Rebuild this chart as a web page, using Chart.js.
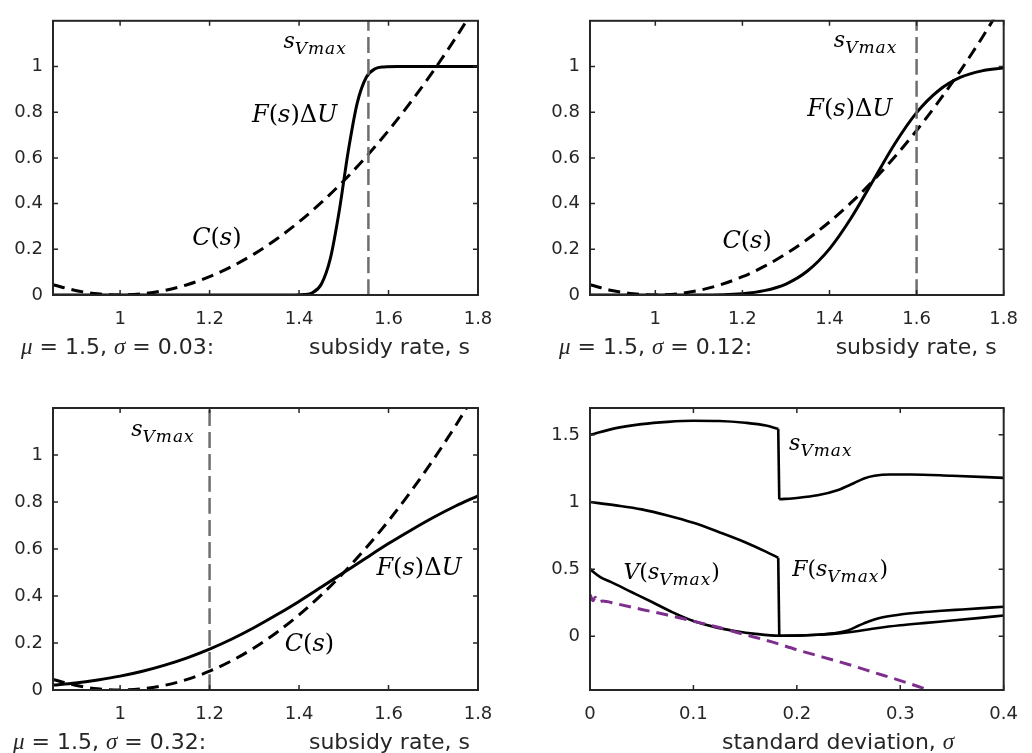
<!DOCTYPE html>
<html>
<head>
<meta charset="utf-8">
<script src="https://cdn.jsdelivr.net/npm/chart.js@4.4.1/dist/chart.umd.min.js"></script>
<style>
body { margin: 0; background: #fff; width: 1032px; height: 753px; position: relative; overflow: hidden; }
canvas { position: absolute; }
</style>
</head>
<body>
<canvas id="p1" width="516" height="376" style="left:0;top:0"></canvas>
<canvas id="p2" width="516" height="376" style="left:516px;top:0"></canvas>
<canvas id="p3" width="516" height="377" style="left:0;top:376px"></canvas>
<canvas id="p4" width="516" height="377" style="left:516px;top:376px"></canvas>
<script>
// subsidy rate grid and cost curve C(s), shared by the three top panels
var sGrid = [0.85, 0.9, 0.95, 1, 1.05, 1.1, 1.15, 1.2, 1.25, 1.3, 1.35, 1.4, 1.45, 1.5, 1.55, 1.6, 1.65, 1.7, 1.75, 1.8];
var costC = [0.045, 0.02, 0.005, 0, 0.005, 0.02, 0.045, 0.08, 0.125, 0.18, 0.245, 0.32, 0.405, 0.5, 0.605, 0.72, 0.845, 0.98, 1.125, 1.28];

// F(s)dU, sigma = 0.03
var s1 = [0.85, 1, 1.2, 1.38, 1.41, 1.43, 1.45, 1.47, 1.49, 1.5, 1.51, 1.53, 1.55, 1.57, 1.59, 1.62, 1.7, 1.8];
var F1 = [0, 0, 0, 0, 0.002, 0.01, 0.048, 0.16, 0.37, 0.5, 0.63, 0.84, 0.952, 0.99, 0.998, 1, 1, 1];
// F(s)dU, sigma = 0.12
var s2 = [0.85, 0.9, 1, 1.1, 1.2, 1.25, 1.3, 1.35, 1.4, 1.45, 1.5, 1.55, 1.6, 1.65, 1.7, 1.75, 1.8];
var F2 = [0, 0, 0, 0, 0.006, 0.019, 0.048, 0.106, 0.202, 0.338, 0.5, 0.662, 0.798, 0.894, 0.952, 0.981, 0.994];
// F(s)dU, sigma = 0.32 (on sGrid)
var F3 = [0.021, 0.03, 0.043, 0.059, 0.08, 0.106, 0.137, 0.174, 0.217, 0.266, 0.32, 0.377, 0.438, 0.5, 0.562, 0.623, 0.68, 0.734, 0.783, 0.826];

// s_Vmax position for each top panel
var sVmaxMark = [1.555, 1.6, 1.2];

// bottom right panel: against standard deviation
var sigA = [0, 0.025, 0.05, 0.075, 0.1, 0.125, 0.15, 0.17, 0.182, 0.183, 0.2, 0.22, 0.24, 0.255, 0.265, 0.275, 0.29, 0.31, 0.35, 0.4];
var sVmax = [1.5, 1.55, 1.58, 1.597, 1.605, 1.603, 1.59, 1.57, 1.545, 1.02, 1.03, 1.05, 1.09, 1.14, 1.175, 1.195, 1.205, 1.205, 1.195, 1.18];
var sigB = [0, 0.025, 0.05, 0.075, 0.1, 0.125, 0.15, 0.17, 0.182, 0.183, 0.2, 0.22, 0.235, 0.25, 0.26, 0.27, 0.28, 0.3, 0.32, 0.34, 0.36, 0.38, 0.4];
var FsV = [1.0, 0.975, 0.945, 0.9, 0.845, 0.775, 0.7, 0.63, 0.585, 0.004, 0.005, 0.012, 0.022, 0.045, 0.08, 0.112, 0.137, 0.162, 0.178, 0.19, 0.2, 0.21, 0.22];
var jumpAt = 8; // index of the last point before the drop in sigA / sigB
var sigC = [0, 0.01, 0.02, 0.04, 0.06, 0.08, 0.1, 0.12, 0.14, 0.16, 0.183, 0.2, 0.22, 0.235, 0.25, 0.275, 0.3, 0.325, 0.35, 0.375, 0.4];
var VsV = [0.5, 0.44, 0.405, 0.33, 0.255, 0.178, 0.114, 0.07, 0.04, 0.018, 0.004, 0.005, 0.011, 0.018, 0.03, 0.058, 0.082, 0.1, 0.117, 0.135, 0.155];
var sigD = [0, 0.003, 0.005, 0.008, 0.012, 0.025, 0.05, 0.075, 0.1, 0.125, 0.15, 0.175, 0.2, 0.225, 0.25, 0.275, 0.3, 0.325, 0.34];
var purple = [0.31, 0.265, 0.29, 0.255, 0.262, 0.243, 0.2, 0.158, 0.112, 0.065, 0.012, -0.04, -0.1, -0.155, -0.21, -0.27, -0.33, -0.395, -0.44];

// tick labels
var xTicksS = [1, 1.2, 1.4, 1.6, 1.8];
var yTicksF = [0, 0.2, 0.4, 0.6, 0.8, 1];
var xTicksSig = [0, 0.1, 0.2, 0.3, 0.4];
var yTicks4 = [0, 0.5, 1, 1.5];

var AXIS = '#262626';
var SERIF = '"DejaVu Serif"';
var SANS = '"DejaVu Sans"';

function pts(xs, ys) {
  return xs.map(function (x, i) { return { x: x, y: ys[i] }; });
}
// break the smooth curve at the drop (the drop itself is drawn as a straight segment)
function withGap(xs, ys, k) {
  var d = pts(xs, ys);
  d.splice(k + 1, 0, { x: (xs[k] + xs[k + 1]) / 2, y: null });
  return d;
}

function solid(data, w) {
  return { data: data, borderColor: '#000', borderWidth: w || 3, pointRadius: 0,
    cubicInterpolationMode: 'monotone', clip: 1 };
}
function straight(data, w) {
  return { data: data, borderColor: '#000', borderWidth: w || 3, pointRadius: 0, tension: 0, clip: 1 };
}
function dashed(data, color, dash, w) {
  return { data: data, borderColor: color, borderWidth: w || 3, borderDash: dash, pointRadius: 0,
    cubicInterpolationMode: 'monotone', clip: 1 };
}

// draw mixed italic / upright / subscript text pieces
function drawMath(ctx, lab, x, y) {
  var size = lab.size, sub = lab.sub || Math.round(size * 0.8);
  ctx.fillStyle = '#000';
  ctx.textBaseline = 'alphabetic';
  ctx.textAlign = 'left';
  lab.parts.forEach(function (p) {
    var t = p[0], st = p[1], dy = 0;
    ctx.letterSpacing = '0px';
    if (st == 'i') ctx.font = 'italic ' + size + 'px ' + SERIF;
    else if (st == 'r') ctx.font = size + 'px ' + SERIF;
    else { ctx.font = 'italic ' + sub + 'px ' + SERIF; dy = Math.round(size * 0.25); ctx.letterSpacing = '1px'; }
    ctx.fillText(t, x, y + dy);
    x += ctx.measureText(t).width;
  });
  ctx.letterSpacing = '0px';
}

function drawCaption(ctx, cap, area) {
  var parts = cap.parts;
  function setFont(st) {
    ctx.font = st == 'g' ? 'italic 23px "Liberation Serif"' : '22px ' + SANS;
  }
  var total = 0;
  parts.forEach(function (p) { setFont(p[1]); total += ctx.measureText(p[0]).width; });
  var x = cap.align == 'right' ? area.right + cap.dx - total : area.left + cap.dx;
  var y = area.bottom + cap.dy;
  ctx.fillStyle = AXIS;
  ctx.textBaseline = 'alphabetic';
  ctx.textAlign = 'left';
  parts.forEach(function (p) {
    setFont(p[1]);
    ctx.fillText(p[0], x, y);
    x += ctx.measureText(p[0]).width;
  });
}

function decor(labels, captions) {
  return {
    id: 'decor',
    afterDatasetsDraw: function (chart) {
      var ctx = chart.ctx, a = chart.chartArea, xs = chart.scales.x, ys = chart.scales.y;
      ctx.save();
      ctx.strokeStyle = AXIS;
      ctx.lineWidth = 1.5;
      ctx.beginPath();
      xs.ticks.forEach(function (t) {
        var px = xs.getPixelForValue(t.value);
        ctx.moveTo(px, a.bottom); ctx.lineTo(px, a.bottom - 5);
        ctx.moveTo(px, a.top); ctx.lineTo(px, a.top + 5);
      });
      ys.ticks.forEach(function (t) {
        var py = ys.getPixelForValue(t.value);
        ctx.moveTo(a.left, py); ctx.lineTo(a.left + 5, py);
        ctx.moveTo(a.right, py); ctx.lineTo(a.right - 5, py);
      });
      ctx.stroke();
      ctx.lineWidth = 2;
      ctx.strokeRect(a.left, a.top, a.right - a.left, a.bottom - a.top);
      labels.forEach(function (l) {
        drawMath(ctx, l, xs.getPixelForValue(l.x), ys.getPixelForValue(l.y));
      });
      captions.forEach(function (c) { drawCaption(ctx, c, a); });
      ctx.restore();
    }
  };
}

function fmt(v) { return String(+(+v).toFixed(2)); }

function makePanel(id, p) {
  new Chart(document.getElementById(id), {
    type: 'line',
    data: { datasets: p.datasets },
    options: {
      responsive: false,
      animation: false,
      spanGaps: false,
      layout: { padding: { left: 0, right: p.padRight, top: p.padTop, bottom: 0 } },
      plugins: { legend: { display: false }, tooltip: { enabled: false } },
      scales: {
        x: {
          type: 'linear', min: p.xMin, max: p.xMax,
          grid: { display: false, drawTicks: false },
          border: { display: false },
          afterBuildTicks: function (s) { s.ticks = p.xTicks.map(function (v) { return { value: v }; }); },
          afterFit: function (s) { s.height = p.xHeight; },
          ticks: { padding: 14, color: AXIS, maxRotation: 0, autoSkip: false,
            font: { family: 'DejaVu Sans', size: 18 }, callback: fmt }
        },
        y: {
          type: 'linear', min: p.yMin, max: p.yMax,
          grid: { display: false, drawTicks: false },
          border: { display: false },
          afterBuildTicks: function (s) { s.ticks = p.yTicks.map(function (v) { return { value: v }; }); },
          afterFit: function (s) { s.width = p.yWidth; },
          ticks: { padding: 10, color: AXIS, autoSkip: false,
            font: { family: 'DejaVu Sans', size: 18 }, callback: fmt }
        }
      }
    },
    plugins: [decor(p.labels, p.captions)]
  });
}

var FdU = [['F', 'i'], ['(', 'r'], ['s', 'i'], [')', 'r'], ['\u0394', 'r'], ['U', 'i']];
var Cs = [['C', 'i'], ['(', 'r'], ['s', 'i'], [')', 'r']];
var sV = [['s', 'i'], ['Vmax', 'b']];

function muSigma(sig) {
  return [['\u03bc', 'g'], [' = 1.5, ', 't'], ['\u03c3', 'g'], [' = ' + sig + ':', 't']];
}
var subsidyCap = [['subsidy rate, s', 't']];

function topPanel(id, sArr, fArr, mark, geo, labs, sig) {
  makePanel(id, {
    datasets: [
      dashed([{ x: mark, y: 0 }, { x: mark, y: 1.2 }], '#6e6e6e', [16, 6], 2.5),
      dashed(pts(sGrid, costC), '#000', [12, 7], 3),
      solid(pts(sArr, fArr), 3)
    ],
    xMin: 0.85, xMax: 1.8, yMin: 0, yMax: 1.2,
    xTicks: xTicksS, yTicks: yTicksF,
    yWidth: geo[0], padRight: geo[1], padTop: geo[2], xHeight: geo[3],
    labels: [
      { x: labs[0][0], y: labs[0][1], size: 22, sub: 17, parts: sV },
      { x: labs[1][0], y: labs[1][1], size: 24, parts: FdU },
      { x: labs[2][0], y: labs[2][1], size: 24, parts: Cs }
    ],
    captions: [
      { parts: muSigma(sig), align: 'left', dx: geo[4], dy: 59 },
      { parts: subsidyCap, align: 'right', dx: geo[5], dy: 59 }
    ]
  });
}

topPanel('p1', s1, F1, sVmaxMark[0], [53, 38, 13, 81, -32, -8],
  [[1.365, 1.08], [1.295, 0.755], [1.161, 0.221]], '0.03');
topPanel('p2', s2, F2, sVmaxMark[1], [74, 17, 13, 81, -31, -7],
  [[1.41, 1.085], [1.349, 0.785], [1.154, 0.206]], '0.12');
topPanel('p3', sGrid, F3, sVmaxMark[2], [53, 38, 32, 63, -40, -8],
  [[1.025, 1.08], [1.573, 0.49], [1.368, 0.165]], '0.32');

makePanel('p4', {
  datasets: [
    dashed(pts(sigD, purple), '#7e2f8e', [12, 7], 3),
    solid(withGap(sigA, sVmax, jumpAt), 2.6),
    straight(pts(sigA.slice(jumpAt, jumpAt + 2), sVmax.slice(jumpAt, jumpAt + 2)), 2.6),
    solid(withGap(sigB, FsV, jumpAt), 2.6),
    straight(pts(sigB.slice(jumpAt, jumpAt + 2), FsV.slice(jumpAt, jumpAt + 2)), 2.6),
    solid(pts(sigC, VsV), 2.6)
  ],
  xMin: 0, xMax: 0.4, yMin: -0.4, yMax: 1.7,
  xTicks: xTicksSig, yTicks: yTicks4,
  yWidth: 74, padRight: 17, padTop: 32, xHeight: 63,
  labels: [
    { x: 0.1925, y: 1.39, size: 22, sub: 17, parts: sV },
    { x: 0.0323, y: 0.43, size: 22, sub: 17, parts: [['V', 'i'], ['(', 'r'], ['s', 'i'], ['Vmax', 'b'], [')', 'r']] },
    { x: 0.1955, y: 0.45, size: 22, sub: 17, parts: [['F', 'i'], ['(', 'r'], ['s', 'i'], ['Vmax', 'b'], [')', 'r']] }
  ],
  captions: [
    { parts: [['standard deviation, ', 't'], ['\u03c3', 'g']], align: 'left', dx: 132, dy: 59 }
  ]
});
</script>
</body>
</html>
